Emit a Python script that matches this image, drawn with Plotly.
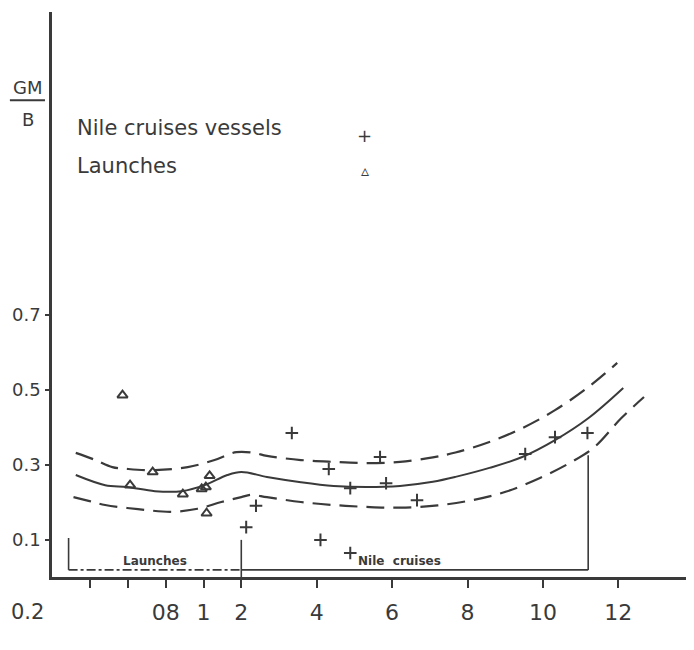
import numpy as np
import plotly.graph_objects as go

# ---- data ----
# x-axis is a hand-drawn non-uniform scale: knots of real value -> axis position
scale_vals = [0.2, 0.4, 0.6, 0.8, 1, 2, 4, 6, 8, 10, 12, 14]
scale_pos = [-3, -2, -1, 0, 1, 2, 4, 6, 8, 10, 12, 14]
x_tick_vals = [0.4, 0.6, 0.8, 1, 2, 4, 6, 8, 10, 12]
x_tick_text = ["", "", "08", "1", "2", "4", "6", "8", "10", "12"]
x_origin_label = "0.2"
y_tick_vals = [0.1, 0.3, 0.5, 0.7]
y_tick_text = ["0.1", "0.3", "0.5", "0.7"]

launch_x = [0.57, 0.61, 0.73, 0.89, 0.99, 1.06, 1.16, 1.08]
launch_y = [0.485, 0.245, 0.28, 0.221, 0.235, 0.24, 0.27, 0.17]

nile_x = [3.34, 4.32, 4.89, 5.68, 5.84, 6.66, 2.39, 2.13, 4.1, 4.89, 9.53, 10.32, 11.18]
nile_y = [0.384, 0.288, 0.237, 0.32, 0.25, 0.205, 0.19, 0.133, 0.099, 0.064, 0.328, 0.373, 0.384]

mid_x = [0.322, 0.478, 0.594, 0.742, 0.884, 1.03, 1.63, 2.0, 2.68, 3.58, 4.45, 5.32, 6.21, 7.08,
         7.68, 8.58, 9.45, 10.32, 11.21, 12.13]
mid_y = [0.272, 0.245, 0.24, 0.229, 0.229, 0.245, 0.272, 0.28, 0.267, 0.253, 0.243, 0.24, 0.243, 0.254,
         0.267, 0.291, 0.32, 0.365, 0.424, 0.504]

up_x = [0.322, 0.426, 0.516, 0.6, 0.742, 0.916, 1.29, 1.87, 2.34, 2.68, 3.58, 4.45, 5.32, 6.21, 7.08,
        7.68, 8.58, 9.45, 10.32, 11.21, 11.97]
up_y = [0.331, 0.312, 0.293, 0.288, 0.285, 0.293, 0.312, 0.333, 0.331, 0.323, 0.312, 0.307, 0.304, 0.307,
        0.319, 0.332, 0.36, 0.397, 0.445, 0.507, 0.571]

low_x = [0.31, 0.39, 0.478, 0.652, 0.832, 0.968, 1.47, 2.0, 2.26, 2.68, 3.58, 4.45, 5.32, 6.21, 7.21,
         8.13, 9.03, 9.92, 10.76, 11.37, 12.08, 12.68]
low_y = [0.213, 0.203, 0.192, 0.181, 0.174, 0.182, 0.2, 0.213, 0.219, 0.213, 0.2, 0.192, 0.187, 0.185,
         0.191, 0.205, 0.228, 0.264, 0.307, 0.347, 0.424, 0.48]

# range brackets along the x axis
launch_range = [0.284, 2.0]
nile_range = [2.0, 11.2]


def xp(v):
    return np.interp(np.asarray(v, dtype=float), scale_vals, scale_pos)


ink = "#3a3a3a"
fnt = "DejaVu Sans"

fig = go.Figure()
fig.add_trace(go.Scatter(x=xp(mid_x), y=mid_y, mode="lines",
                         line=dict(color=ink, width=2, shape="spline", smoothing=1.0),
                         showlegend=False, hoverinfo="skip"))
fig.add_trace(go.Scatter(x=xp(up_x), y=up_y, mode="lines",
                         line=dict(color=ink, width=2.2, shape="spline", smoothing=1.0, dash="18px,9px"),
                         showlegend=False, hoverinfo="skip"))
fig.add_trace(go.Scatter(x=xp(low_x), y=low_y, mode="lines",
                         line=dict(color=ink, width=2.2, shape="spline", smoothing=1.0, dash="18px,9px"),
                         showlegend=False, hoverinfo="skip"))
fig.add_trace(go.Scatter(x=xp(launch_x), y=launch_y, mode="markers", name="Launches",
                         marker=dict(symbol="triangle-up-open", size=9, color=ink, line=dict(width=2, color=ink)),
                         showlegend=False))
fig.add_trace(go.Scatter(x=xp(nile_x), y=nile_y, mode="markers", name="Nile cruises vessels",
                         marker=dict(symbol="cross-thin-open", size=9, color=ink, line=dict(width=2, color=ink)),
                         showlegend=False))

shapes = []
br_y = 0.019
lx0, lx1 = xp(launch_range)
nx0, nx1 = xp(nile_range)
shapes.append(dict(type="line", xref="x", yref="y", x0=lx0, x1=lx0, y0=br_y, y1=0.104,
                   line=dict(color=ink, width=1.6)))
shapes.append(dict(type="line", xref="x", yref="y", x0=lx0, x1=lx1, y0=br_y, y1=br_y,
                   line=dict(color=ink, width=1.6, dash="dashdot")))
shapes.append(dict(type="line", xref="x", yref="y", x0=lx1, x1=lx1, y0=0, y1=0.099,
                   line=dict(color=ink, width=1.6)))
shapes.append(dict(type="line", xref="x", yref="y", x0=nx0, x1=nx1, y0=br_y, y1=br_y,
                   line=dict(color=ink, width=1.6)))
shapes.append(dict(type="line", xref="x", yref="y", x0=nx1, x1=nx1, y0=br_y, y1=0.325,
                   line=dict(color=ink, width=1.6)))
# fraction bar of GM/B
shapes.append(dict(type="line", xref="paper", yref="paper", x0=-0.066, x1=-0.011, y0=0.844, y1=0.844,
                   line=dict(color=ink, width=2)))

annotations = [
    dict(text="GM", xref="paper", yref="paper", x=-0.038, y=0.867, showarrow=False,
         font=dict(family=fnt, size=18, color=ink), xanchor="center", yanchor="middle"),
    dict(text="B", xref="paper", yref="paper", x=-0.038, y=0.809, showarrow=False,
         font=dict(family=fnt, size=18, color=ink), xanchor="center", yanchor="middle"),
    dict(text="Nile cruises vessels", xref="paper", yref="paper", x=0.036, y=0.795, showarrow=False,
         font=dict(family=fnt, size=21, color=ink), xanchor="left", yanchor="middle"),
    dict(text="+", xref="paper", yref="paper", x=0.49, y=0.781, showarrow=False,
         font=dict(family=fnt, size=18, color=ink), xanchor="center", yanchor="middle"),
    dict(text="Launches", xref="paper", yref="paper", x=0.036, y=0.727, showarrow=False,
         font=dict(family=fnt, size=21, color=ink), xanchor="left", yanchor="middle"),
    dict(text="\u25b5", xref="paper", yref="paper", x=0.49, y=0.719, showarrow=False,
         font=dict(family=fnt, size=16, color=ink), xanchor="center", yanchor="middle"),
    dict(text="<b>Launches</b>", xref="x", yref="y", x=float(xp(0.742)), y=0.043, showarrow=False,
         font=dict(family=fnt, size=12, color=ink), xanchor="center", yanchor="middle"),
    dict(text="<b>Nile  cruises</b>", xref="x", yref="y", x=float(xp(6.2)), y=0.043, showarrow=False,
         font=dict(family=fnt, size=12, color=ink), xanchor="center", yanchor="middle"),
    dict(text=x_origin_label, xref="paper", yref="paper", x=0, y=0, xshift=-25, yshift=-35,
         showarrow=False, font=dict(family=fnt, size=21, color=ink), xanchor="center", yanchor="middle"),
]

# the page body has an 8px default margin, so the figure is 8px smaller on each axis
fig.update_layout(
    width=686, height=642,
    margin=dict(l=44, r=4, t=4, b=73),
    paper_bgcolor="white", plot_bgcolor="white",
    shapes=shapes, annotations=annotations,
    font=dict(family=fnt, color=ink),
    xaxis=dict(range=[-3.02, 13.9], showgrid=False, zeroline=False, showline=True, linewidth=2.5,
               linecolor=ink, ticks="outside", ticklen=8, tickwidth=2, tickcolor=ink, automargin=False,
               tickvals=list(xp(x_tick_vals)), ticktext=x_tick_text, ticklabelstandoff=6,
               tickfont=dict(family=fnt, size=22, color=ink)),
    yaxis=dict(range=[0, 1.507], showgrid=False, zeroline=False, showline=True, linewidth=2.5,
               linecolor=ink, ticks="outside", ticklen=4, tickwidth=1.5, tickcolor=ink, automargin=False,
               tickvals=y_tick_vals, ticktext=y_tick_text, ticklabelstandoff=1,
               tickfont=dict(family=fnt, size=18, color=ink)),
)

fig.write_html("out.html")
